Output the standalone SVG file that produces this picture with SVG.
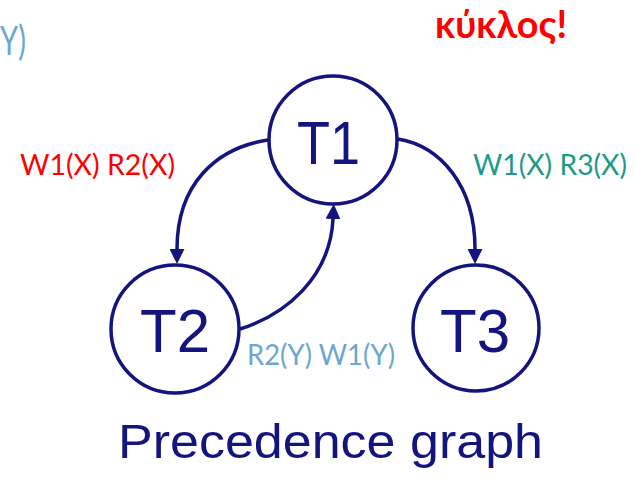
<svg xmlns="http://www.w3.org/2000/svg" width="634" height="480" viewBox="0 0 634 480">
  <style>
    .node { fill: #ffffff; stroke: #14147e; stroke-width: 3.5; }
    .nlabel { font-family: "Liberation Sans", Arial, sans-serif; font-size: 62px; fill: #14147e; text-anchor: middle; }
    .edge { fill: none; stroke: #14147e; stroke-width: 3.5; }
    .lbl { font-family: Lato, "Open Sans", sans-serif; font-size: 29px; }
    .red { fill: #ff0000; }
    .teal { fill: #1e9a87; }
    .blue { fill: #6ba7cf; }
    .title { font-family: "Liberation Sans", Arial, sans-serif; font-size: 48px; fill: #14147e; }
  </style>
  <defs>
    <marker id="arrow" viewBox="0 0 15 15" refX="0" refY="7.5" markerWidth="15" markerHeight="15" markerUnits="userSpaceOnUse" orient="auto">
      <path d="M0,0 L15,7.5 L0,15 z" fill="#14147e"/>
    </marker>
  </defs>
  <rect width="634" height="480" fill="#ffffff"/>

  <g id="connectors">
    <path class="edge" d="M268,140 C215,148 177,185 177,249" marker-end="url(#arrow)"/>
    <path class="edge" d="M398,139 C440,146 475,185 475,249" marker-end="url(#arrow)"/>
    <path class="edge" d="M240,329 C285,315 330,278 333,219" marker-end="url(#arrow)"/>
  </g>

  <g id="T1">
    <circle class="node" cx="333" cy="140" r="64"/>
    <text class="nlabel" x="328.5" y="164" textLength="63" lengthAdjust="spacingAndGlyphs">T1</text>
  </g>
  <g id="T2">
    <circle class="node" cx="175" cy="329" r="64"/>
    <text class="nlabel" x="175" y="352" textLength="70" lengthAdjust="spacingAndGlyphs">T2</text>
  </g>
  <g id="T3">
    <circle class="node" cx="476" cy="328" r="63"/>
    <text class="nlabel" x="475" y="352" textLength="70" lengthAdjust="spacingAndGlyphs">T3</text>
  </g>

  <g id="labels">
    <text class="lbl blue" x="0" y="55" style="font-size:40px" textLength="26" lengthAdjust="spacingAndGlyphs">Y)</text>
    <text class="lbl red" x="435" y="38" style="font-size:38px;font-weight:bold" textLength="132" lengthAdjust="spacingAndGlyphs">κύκλος!</text>
    <text class="lbl red" x="20" y="175" textLength="155" lengthAdjust="spacingAndGlyphs">W1(X) R2(X)</text>
    <text class="lbl teal" x="473" y="175" textLength="154" lengthAdjust="spacingAndGlyphs">W1(X) R3(X)</text>
    <text class="lbl blue" x="247" y="365" textLength="148" lengthAdjust="spacingAndGlyphs">R2(Y) W1(Y)</text>
  </g>

  <text class="title" x="118" y="458" textLength="425" lengthAdjust="spacingAndGlyphs">Precedence graph</text>
</svg>
